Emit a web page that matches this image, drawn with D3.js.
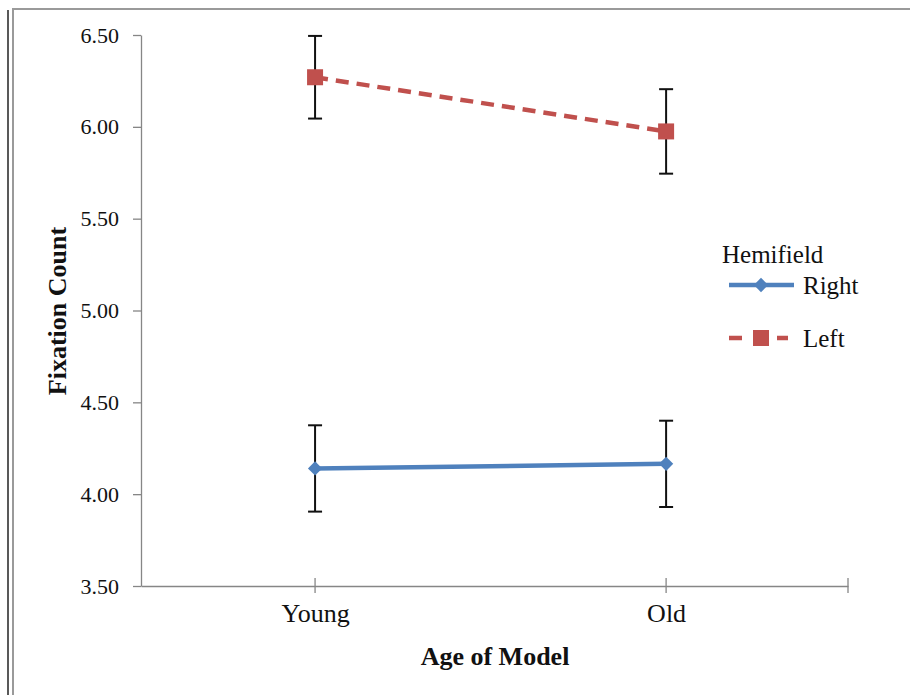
<!DOCTYPE html>
<html>
  <head>
    <meta charset="utf-8">
    <title>Fixation count by age of model</title>
    <script src="https://d3js.org/d3.v7.min.js"></script>
    <style>
      body { margin: 0; background: #fff; }
      svg text { font-family: "Liberation Serif", "Times New Roman", serif; fill: #111; }
      .yAxis .tick text { font-size: 22px; }
      .xAxis .tick text { font-size: 26px; }
      .axisTitle { font-size: 26px; font-weight: bold; }
      .legend text { font-size: 25px; }
    </style>
  </head>
  <body>
    <svg id="chart" width="910" height="695"></svg>
    <script>
      // data
      var ages = ["Young", "Old"];
      var yTicks = [3.5, 4.0, 4.5, 5.0, 5.5, 6.0, 6.5];
      var rightMean = [4.14, 4.165];
      var rightErr = [0.235, 0.235];
      var leftMean = [6.27, 5.975];
      var leftErr = [0.225, 0.23];

      var series = [
        { name: "Right", mean: rightMean, err: rightErr, colour: "#4f81bd", dash: null, marker: "diamond" },
        { name: "Left", mean: leftMean, err: leftErr, colour: "#c0504d", dash: "13,8", marker: "square" }
      ];

      var chart = d3.select("#chart");
      var margin = { top: 35, right: 62, bottom: 109, left: 141 };
      var width = 910, height = 695;

      // frame
      chart.append("line").attr("x1", 8).attr("x2", 8).attr("y1", 10).attr("y2", height)
        .attr("stroke", "#222").attr("stroke-width", 1.5);
      chart.append("path").attr("d", "M13," + height + "V9H" + width)
        .attr("fill", "none").attr("stroke", "#9a9a9a").attr("stroke-width", 2);

      var x = d3.scalePoint().domain(ages)
        .range([margin.left, width - margin.right])
        .padding(0.507).align(0.489);
      var y = d3.scaleLinear().domain([3.5, 6.5])
        .range([height - margin.bottom, margin.top]);

      // y axis
      var yAxis = d3.axisLeft(y)
        .tickValues(yTicks)
        .tickFormat(d3.format(".2f"))
        .tickSizeInner(8).tickSizeOuter(0).tickPadding(14);
      var yAxisGroup = chart.append("g").attr("class", "yAxis")
        .attr("transform", "translate(" + margin.left + ",0)")
        .call(yAxis);
      yAxisGroup.selectAll("path, line").attr("stroke", "#868686").attr("stroke-width", 1.3);

      // x axis with crossing ticks
      var xAxisGroup = chart.append("g").attr("class", "xAxis")
        .attr("transform", "translate(0," + (height - margin.bottom) + ")")
        .call(d3.axisBottom(x).tickSizeInner(0).tickSizeOuter(0).tickPadding(18));
      xAxisGroup.select("path").attr("stroke", "#868686").attr("stroke-width", 1.3);
      var xTickPos = ages.map(function(d) { return x(d); });
      xTickPos.push(x.range()[1]);
      xAxisGroup.selectAll(".xcross").data(xTickPos).enter().append("line")
        .attr("x1", function(d) { return d; }).attr("x2", function(d) { return d; })
        .attr("y1", -8).attr("y2", 7)
        .attr("stroke", "#868686").attr("stroke-width", 1.3);

      // axis titles
      chart.append("text").attr("class", "axisTitle")
        .attr("transform", "translate(66,311) rotate(-90)")
        .attr("text-anchor", "middle").text("Fixation Count");
      chart.append("text").attr("class", "axisTitle")
        .attr("x", 495).attr("y", 665)
        .attr("text-anchor", "middle").text("Age of Model");

      var line = d3.line()
        .x(function(d, i) { return x(ages[i]); })
        .y(function(d) { return y(d); });

      function drawMarker(g, type, colour, px, py) {
        if (type === "square") {
          g.append("rect").attr("x", px - 8).attr("y", py - 8)
            .attr("width", 16).attr("height", 16).attr("fill", colour);
        } else {
          g.append("path")
            .attr("d", d3.symbol().type(d3.symbolDiamond2).size(130)())
            .attr("transform", "translate(" + px + "," + py + ")")
            .attr("fill", colour);
        }
      }

      series.forEach(function(s) {
        var g = chart.append("g");
        // error bars
        s.mean.forEach(function(m, i) {
          var px = x(ages[i]);
          var top = y(m + s.err[i]), bot = y(m - s.err[i]);
          g.append("line").attr("x1", px).attr("x2", px).attr("y1", top).attr("y2", bot)
            .attr("stroke", "#111").attr("stroke-width", 2);
          [top, bot].forEach(function(yy) {
            g.append("line").attr("x1", px - 7).attr("x2", px + 7).attr("y1", yy).attr("y2", yy)
              .attr("stroke", "#111").attr("stroke-width", 2);
          });
        });
        g.append("path").attr("d", line(s.mean))
          .attr("fill", "none").attr("stroke", s.colour).attr("stroke-width", 4.5)
          .attr("stroke-dasharray", s.dash);
        s.mean.forEach(function(m, i) {
          drawMarker(g, s.marker, s.colour, x(ages[i]), y(m));
        });
      });

      // legend
      var legend = chart.append("g").attr("class", "legend");
      legend.append("text").attr("x", 722).attr("y", 263).text("Hemifield");
      var legendY = [285, 338];
      series.forEach(function(s, i) {
        var ly = legendY[i];
        legend.append("line").attr("x1", 729).attr("x2", s.dash ? 788 : 794).attr("y1", ly).attr("y2", ly)
          .attr("stroke", s.colour).attr("stroke-width", 4.5)
          .attr("stroke-dasharray", s.dash ? "13,11" : null);
        drawMarker(legend, s.marker, s.colour, 761, ly);
        legend.append("text").attr("x", 803).attr("y", ly + 9).text(s.name);
      });
    </script>
  </body>
</html>
